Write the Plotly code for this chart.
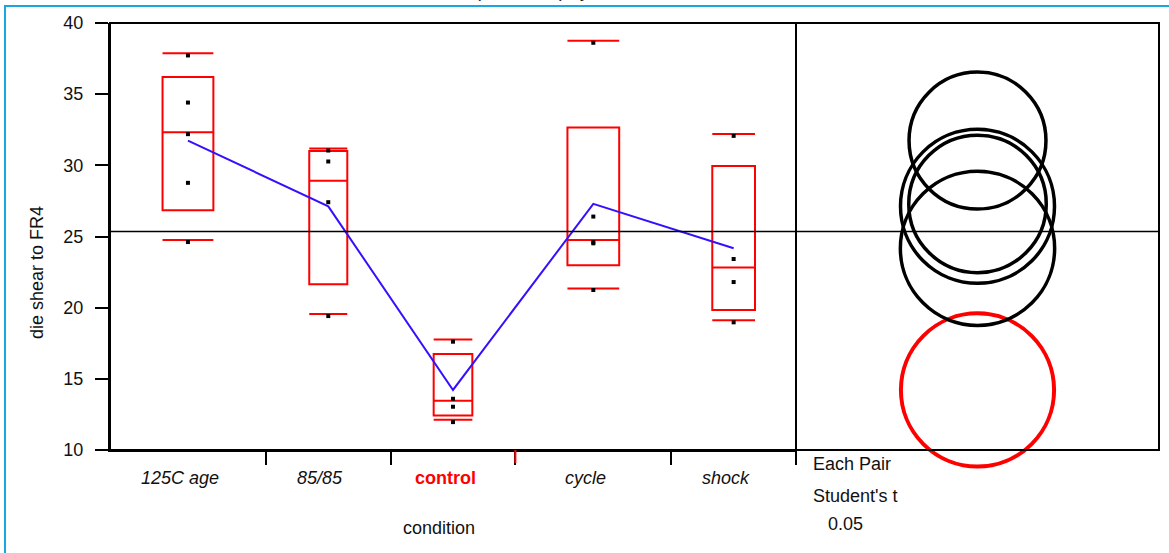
import plotly.graph_objects as go

# ---------------- data ----------------
categories = ["125C age", "85/85", "control", "cycle", "shock"]
counts = [5, 4, 4, 5, 4]
points_125c = [37.72, 34.41, 32.19, 28.77, 24.61]
points_8585 = [31.04, 30.27, 27.41, 19.41]
points_control = [17.61, 13.60, 13.04, 11.96]
points_cycle = [38.61, 26.40, 24.60, 24.52, 21.24]
points_shock = [32.07, 23.42, 21.80, 18.97]
means = [31.74, 27.12, 14.22, 27.29, 24.17]
q10 = [24.75, 19.55, 12.12, 21.34, 19.11]
q25 = [26.84, 21.64, 12.43, 22.98, 19.83]
q50 = [32.33, 28.91, 13.46, 24.76, 22.83]
q75 = [36.20, 31.00, 16.74, 32.66, 29.96]
q90 = [37.88, 31.18, 17.77, 38.75, 32.21]
grand_mean = 25.35
circle_radius = [4.81, 5.41, 5.38, 4.83, 5.42]
y_ticks = [10, 15, 20, 25, 30, 35, 40]
y_title = "die shear to FR4"
x_title = "condition"
comparison_text = ["Each Pair", "Student's t", "0.05"]
header_text = "die shear to FR4 (Each Pair) by condition"

# ---------------- styles / geometry ----------------
W, H = 1169, 553
L, R, T, B = 110, 10, 23, 103
PW, PH = W - L - R, H - T - B
SPLIT_PX = 796
DOM_SPLIT = (SPLIT_PX - L) / PW
Y_RANGE = [10, 40]
PPU = PH / (Y_RANGE[1] - Y_RANGE[0])
BOX_HALF = [0.815, 0.61, 0.62, 0.83, 0.685]
RED = "#ff0000"
BLUE = "#3311ff"
FONT = "Liberation Sans, Arial, sans-serif"
FS = 18

all_points = [points_125c, points_8585, points_control, points_cycle, points_shock]

# category boundaries / centres in x units (widths proportional to counts)
bounds = [0]
for n in counts:
    bounds.append(bounds[-1] + n)
centers = [(bounds[i] + bounds[i + 1]) / 2 for i in range(len(counts))]


def px_x(px):
    return (px - L) / PW


def px_y(py):
    return (H - B - py) / PH


fig = go.Figure()

shapes = []
for i, c in enumerate(centers):
    hw = BOX_HALF[i]
    x0, x1 = c - hw, c + hw
    line = dict(color=RED, width=2)
    shapes.append(dict(type="rect", xref="x", yref="y", x0=x0, x1=x1, y0=q25[i], y1=q75[i],
                       line=line, layer="below"))
    for v in (q10[i], q50[i], q90[i]):
        shapes.append(dict(type="line", xref="x", yref="y", x0=x0, x1=x1, y0=v, y1=v,
                           line=line, layer="below"))

shapes.append(dict(type="line", xref="paper", yref="y", x0=0, x1=1, y0=grand_mean, y1=grand_mean,
                   line=dict(color="black", width=1.6)))
shapes.append(dict(type="rect", xref="paper", yref="paper", x0=0, x1=1, y0=0, y1=1,
                   line=dict(color="black", width=2)))
shapes.append(dict(type="line", xref="paper", yref="paper", x0=DOM_SPLIT, x1=DOM_SPLIT,
                   y0=px_y(461), y1=1, line=dict(color="black", width=2)))
shapes.append(dict(type="line", xref="x", yref="paper", x0=bounds[3], x1=bounds[3],
                   y0=0, y1=px_y(463), line=dict(color=RED, width=2)))
shapes.append(dict(type="rect", xref="paper", yref="paper", x0=px_x(5), x1=px_x(1185),
                   y0=px_y(600), y1=px_y(6), line=dict(color="#1aa6df", width=2)))

fig.add_trace(go.Scatter(x=centers, y=means, mode="lines", line=dict(color=BLUE, width=2),
                         hoverinfo="skip", showlegend=False, xaxis="x", yaxis="y"))

px_list, py_list = [], []
for i, pts in enumerate(all_points):
    for v in pts:
        px_list.append(centers[i])
        py_list.append(v)
fig.add_trace(go.Scatter(x=px_list, y=py_list, mode="markers",
                         marker=dict(symbol="square", size=4, color="black", opacity=1,
                                     line=dict(width=0)),
                         showlegend=False, xaxis="x", yaxis="y"))

circle_colors = [RED if c == "control" else "black" for c in categories]
circle_widths = [4 if c == "control" else 3.5 for c in categories]
fig.add_trace(go.Scatter(
    x=[0.5] * len(means), y=means, mode="markers", cliponaxis=False,
    marker=dict(symbol="circle-open", size=[2 * r * PPU for r in circle_radius], opacity=1,
                color=circle_colors, line=dict(width=circle_widths, color=circle_colors)),
    showlegend=False, xaxis="x2", yaxis="y"))

annotations = []
for i, c in enumerate(categories):
    sel = c == "control"
    annotations.append(dict(
        x=centers[i], xref="x", y=px_y(478), yref="paper", text=("<b>%s</b>" % c) if sel else c,
        showarrow=False, xanchor="center", yanchor="middle", xshift=-8,
        font=dict(family=FONT, size=FS, color=RED if sel else "#111111",
                  style="normal" if sel else "italic")))

annotations.append(dict(x=px_x(439), xref="paper", y=px_y(528), yref="paper", text=x_title,
                        showarrow=False, xanchor="center", yanchor="middle",
                        font=dict(family=FONT, size=FS, color="#111111")))
annotations.append(dict(x=px_x(37), xref="paper", y=px_y(273), yref="paper", text=y_title,
                        textangle=-90, showarrow=False, xanchor="center", yanchor="middle",
                        font=dict(family=FONT, size=FS, color="#111111")))
for txt, xp, yp in zip(comparison_text, [811, 811, 826], [464, 496, 524]):
    annotations.append(dict(x=px_x(xp), xref="paper", y=px_y(yp), yref="paper", text=txt,
                            showarrow=False, xanchor="left", yanchor="middle",
                            font=dict(family=FONT, size=FS, color="#111111")))
annotations.append(dict(x=px_x(335), xref="paper", y=px_y(3), yref="paper", text=header_text,
                        showarrow=False, xanchor="left", yanchor="bottom",
                        font=dict(family=FONT, size=FS, color="#111111")))

fig.update_layout(
    width=W, height=H,
    margin=dict(l=L, r=R, t=T, b=B, pad=0),
    paper_bgcolor="white", plot_bgcolor="white",
    showlegend=False,
    shapes=shapes, annotations=annotations,
    xaxis=dict(domain=[0, DOM_SPLIT], range=[bounds[0], bounds[-1]], anchor="y",
               tickvals=bounds[1:], ticks="outside", ticklen=13, tickwidth=2, tickcolor="black",
               showticklabels=False, showline=True, linecolor="black", linewidth=2,
               showgrid=False, zeroline=False, fixedrange=True),
    xaxis2=dict(domain=[DOM_SPLIT, 1], range=[0, 1], anchor="y", visible=False,
                showgrid=False, zeroline=False),
    yaxis=dict(range=Y_RANGE, tickvals=y_ticks, ticks="outside", ticklen=13, tickwidth=2,
               tickcolor="black", showline=True, linecolor="black", linewidth=2,
               showgrid=False, zeroline=False, ticklabelstandoff=8,
               tickfont=dict(family=FONT, size=FS, color="#111111")),
)

fig.write_html("out.html", config={"displayModeBar": False},
               post_script="document.body.style.margin='0';")
